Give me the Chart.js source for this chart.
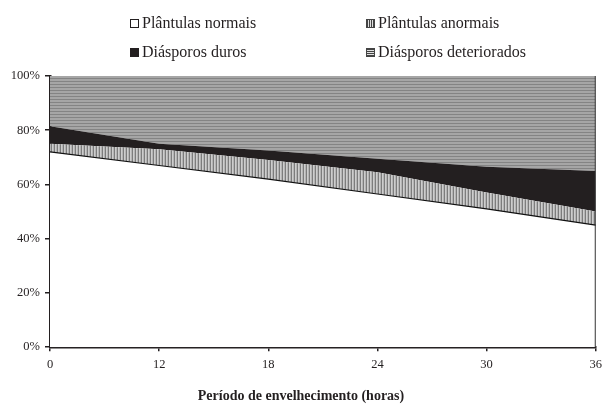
<!DOCTYPE html>
<html>
<head>
<meta charset="utf-8">
<script src="https://cdn.jsdelivr.net/npm/chart.js@4.4.0/dist/chart.umd.min.js"></script>
<style>
    html, body { margin: 0; padding: 0; background: #fff; }
    #wrap { position: relative; width: 608px; height: 405px; }
    #grafico { position: absolute; left: 0; top: 0; }
    .item {
        position: absolute;
        height: 20px;
        display: flex;
        align-items: center;
        white-space: nowrap;
        font-family: "Liberation Serif", "Times New Roman", serif;
        font-size: 16px;
        color: #231f20;
    }
    .box { width: 9px; height: 9px; box-sizing: border-box; margin-right: 3px; }
</style>
</head>
<body>
<div id="wrap">
    <canvas id="grafico" width="608" height="405"></canvas>
    <div id="legend"></div>
</div>
<script>
// ================= DADOS =================
const periodos = ['0', '12', '18', '24', '30', '36'];
const normais = [72, 67, 62, 56.5, 51, 45];
const anormais = [3, 6, 7, 8, 6, 5];
const duros = [6.5, 2, 3.5, 5, 9.5, 15];
const deteriorados = [18.5, 25, 27.5, 30.5, 33.5, 35];
const nomes = ['Plântulas normais', 'Plântulas anormais', 'Diásporos duros', 'Diásporos deteriorados'];

const PRETO = '#231f20';
const FONTE = '"Liberation Serif", "Times New Roman", serif';

// ================= PADRÕES =================
function makePattern(w, h, draw) {
    const c = document.createElement('canvas');
    c.width = w;
    c.height = h;
    const g = c.getContext('2d');
    draw(g);
    return g.createPattern(c, 'repeat');
}

const listrasVerticais = makePattern(3, 1, g => {
    g.fillStyle = '#cdcdcd'; g.fillRect(0, 0, 3, 1);
    g.fillStyle = '#7c7c7c'; g.fillRect(0, 0, 1, 1);
    g.fillStyle = '#b4b4b4'; g.fillRect(2, 0, 1, 1);
});

const listrasHorizontais = makePattern(1, 3, g => {
    g.fillStyle = '#a6a6a6'; g.fillRect(0, 0, 1, 3);
    g.fillStyle = '#848484'; g.fillRect(0, 0, 1, 1);
});

// ================= LEGENDA =================
const legendaItens = [
    { x: 130, y: 23, css: 'background:#fff;border:1px solid #231f20;' },
    { x: 366, y: 23, css: 'background:repeating-linear-gradient(90deg,#444 0 1px,#e0e0e0 1px 2px);border:1px solid #444;' },
    { x: 130, y: 52, css: 'background:#231f20;' },
    { x: 366, y: 52, css: 'background:repeating-linear-gradient(180deg,#444 0 1px,#e0e0e0 1px 2px);border:1px solid #444;' }
];
const legendEl = document.getElementById('legend');
legendaItens.forEach((it, i) => {
    const d = document.createElement('div');
    d.className = 'item';
    d.style.left = it.x + 'px';
    d.style.top = (it.y - 10) + 'px';
    d.innerHTML = '<span class="box" style="' + it.css + '"></span>' + nomes[i];
    legendEl.appendChild(d);
});

// ================= MOLDURA DIREITA =================
const molduraDireita = {
    id: 'molduraDireita',
    afterDatasetsDraw(chart) {
        const { ctx, chartArea } = chart;
        ctx.save();
        ctx.strokeStyle = '#333';
        ctx.lineWidth = 1;
        ctx.beginPath();
        ctx.moveTo(chartArea.right - 0.5, chartArea.top);
        ctx.lineTo(chartArea.right - 0.5, chartArea.bottom);
        ctx.stroke();
        ctx.restore();
    }
};

// ================= GRÁFICO =================
new Chart(document.getElementById('grafico'), {
    type: 'line',
    data: {
        labels: periodos,
        datasets: [
            { label: nomes[0], data: normais, fill: 'origin', backgroundColor: '#ffffff', borderColor: '#111', borderWidth: 1.2 },
            { label: nomes[1], data: anormais, fill: '-1', backgroundColor: listrasVerticais, borderWidth: 0 },
            { label: nomes[2], data: duros, fill: '-1', backgroundColor: PRETO, borderWidth: 0 },
            { label: nomes[3], data: deteriorados, fill: '-1', backgroundColor: listrasHorizontais, borderWidth: 0 }
        ]
    },
    options: {
        responsive: false,
        animation: false,
        events: [],
        elements: { point: { radius: 0 }, line: { tension: 0 } },
        layout: { padding: { top: 76, right: 6, left: 0, bottom: 0 } },
        plugins: {
            legend: { display: false },
            tooltip: { enabled: false },
            title: {
                display: true,
                position: 'bottom',
                text: 'Período de envelhecimento (horas)',
                color: PRETO,
                font: { family: FONTE, size: 14, weight: 'bold' },
                padding: { top: 0, bottom: 0 }
            }
        },
        scales: {
            x: {
                stacked: true,
                offset: false,
                z: 1,
                grid: { display: true, drawOnChartArea: false, drawTicks: true, tickLength: 4, color: PRETO, lineWidth: 1.5 },
                border: { display: true, color: PRETO, width: 2.5 },
                ticks: { color: PRETO, font: { family: FONTE, size: 12.5 }, padding: 6, maxRotation: 0 },
                afterFit(scale) { scale.height = 41; }
            },
            y: {
                stacked: true,
                min: 0,
                max: 100,
                z: 1,
                grid: { display: true, drawOnChartArea: false, drawTicks: true, tickLength: 5, color: PRETO, lineWidth: 1.5 },
                border: { display: true, color: PRETO, width: 2.5 },
                ticks: {
                    stepSize: 20,
                    color: PRETO,
                    padding: 5,
                    font: { family: FONTE, size: 12.5 },
                    callback: v => v + '%'
                },
                afterFit(scale) { scale.width = 50; }
            }
        }
    },
    plugins: [molduraDireita]
});
</script>
</body>
</html>
